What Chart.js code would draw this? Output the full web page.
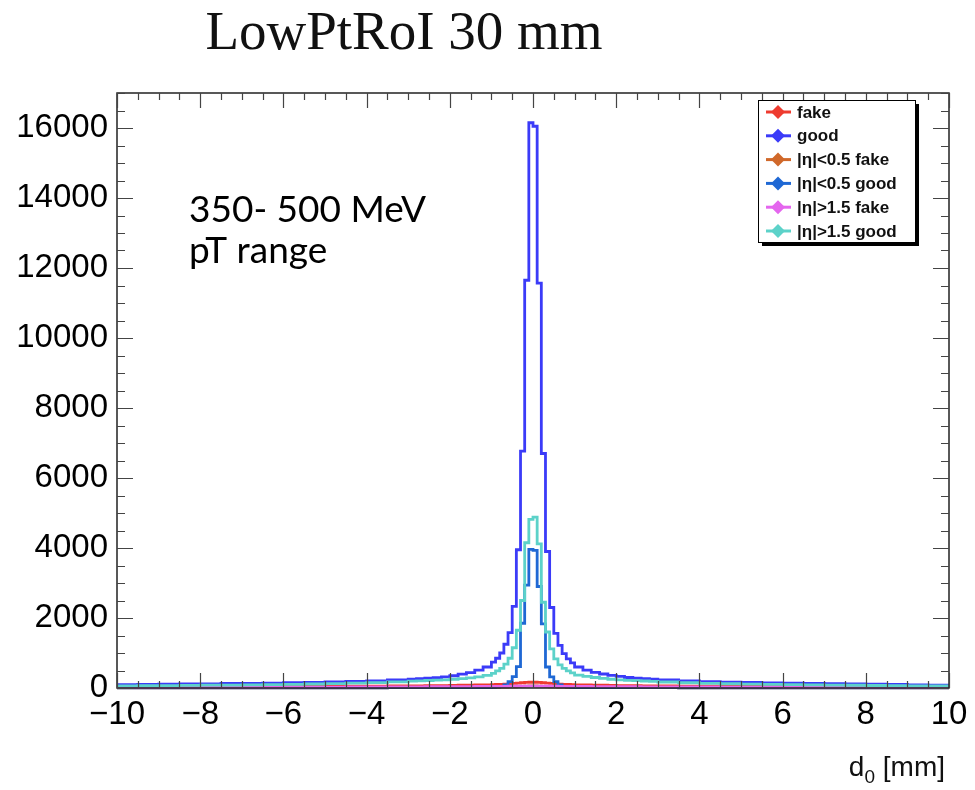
<!DOCTYPE html>
<html>
<head>
<meta charset="utf-8">
<script src="https://cdn.jsdelivr.net/npm/chart.js@4.4.0/dist/chart.umd.min.js"></script>
<style>
html, body { margin: 0; padding: 0; background: #fff; }
#wrap { width: 975px; height: 790px; position: relative; }
</style>
</head>
<body>
<div id="wrap"><canvas id="d0chart" width="975" height="790"></canvas></div>
<script>
// bin edges (d0 in mm): 0.5 mm in the tails, 0.2 mm and 0.1 mm near the core
var binEdges = [-10, -9.5, -9, -8.5, -8, -7.5, -7, -6.5, -6, -5.5, -5, -4.5, -4, -3.5, -3,
    -2.8, -2.6, -2.4, -2.2, -2, -1.8, -1.6, -1.4, -1.2, -1,
    -0.9, -0.8, -0.7, -0.6, -0.5, -0.4, -0.3, -0.2, -0.1, 0,
    0.1, 0.2, 0.3, 0.4, 0.5, 0.6, 0.7, 0.8, 0.9, 1,
    1.2, 1.4, 1.6, 1.8, 2, 2.2, 2.4, 2.6, 2.8, 3,
    3.5, 4, 4.5, 5, 5.5, 6, 6.5, 7, 7.5, 8, 8.5, 9, 9.5, 10];

// entries per bin
var fake = [24, 26, 28, 30, 32, 34, 37, 40, 42, 45, 48, 51, 54, 57,
    60, 62, 65, 68, 70, 75, 80, 83, 87, 90,
    95, 100, 105, 110, 120, 130, 140, 150, 160, 165,
    165, 160, 150, 140, 130, 120, 110, 105, 100, 95,
    90, 87, 83, 80, 75, 70, 68, 65, 62, 60,
    57, 54, 51, 48, 45, 42, 40, 37, 34, 32, 30, 28, 26, 24];
var good = [95, 100, 108, 115, 120, 128, 135, 142, 150, 160, 172, 188, 205, 232,
    255, 265, 280, 295, 320, 350, 395, 440, 510, 600,
    740, 850, 1000, 1250, 1580, 2330, 3950, 6770, 11650, 16150,
    16050, 11570, 6700, 3900, 2300, 1560, 1220, 980, 830, 720,
    600, 510, 445, 400, 360, 330, 300, 280, 265, 250,
    230, 205, 185, 170, 158, 148, 140, 132, 125, 118, 110, 100, 90, 80];
var centralFake = [3, 3, 3, 3, 4, 4, 4, 5, 5, 6, 6, 7, 7, 8,
    8, 8, 9, 9, 10, 11, 12, 13, 14, 16,
    18, 20, 23, 26, 30, 35, 40, 46, 52, 58,
    58, 52, 46, 40, 35, 30, 26, 23, 20, 18,
    16, 14, 13, 12, 11, 10, 9, 9, 8, 8,
    8, 7, 7, 6, 6, 5, 5, 4, 4, 4, 3, 3, 3, 3];
var centralGood = [3, 3, 4, 4, 4, 5, 5, 5, 6, 6, 6, 7, 7, 8,
    8, 8, 9, 9, 10, 10, 11, 12, 13, 15,
    20, 30, 45, 90, 180, 323, 610, 1850, 2940, 3960,
    3930, 2900, 1830, 600, 320, 180, 90, 45, 30, 20,
    15, 13, 12, 11, 10, 10, 9, 9, 8, 8,
    8, 7, 7, 6, 6, 6, 5, 5, 5, 4, 4, 4, 3, 3];
var forwardFake = [14, 15, 16, 17, 18, 19, 20, 22, 23, 25, 27, 28, 30, 32,
    34, 35, 36, 37, 38, 40, 41, 42, 44, 45,
    46, 47, 48, 49, 50, 51, 52, 53, 54, 55,
    55, 54, 53, 52, 51, 50, 49, 48, 47, 46,
    45, 44, 42, 41, 40, 38, 37, 36, 35, 34,
    32, 30, 28, 27, 25, 23, 22, 20, 19, 18, 17, 16, 15, 14];
var forwardGood = [60, 65, 70, 75, 80, 85, 92, 98, 105, 115, 125, 138, 152, 175,
    195, 205, 215, 225, 235, 250, 270, 290, 320, 360,
    420, 490, 560, 680, 850, 1150, 1650, 2500, 4150, 4820,
    4880, 4120, 2450, 1600, 1120, 830, 660, 560, 490, 430,
    370, 330, 300, 275, 250, 235, 220, 210, 200, 190,
    172, 150, 135, 122, 112, 104, 97, 90, 84, 78, 72, 67, 62, 58];

var seriesNames = ['fake', 'good', '|\u03b7|<0.5 fake', '|\u03b7|<0.5 good', '|\u03b7|>1.5 fake', '|\u03b7|>1.5 good'];
var seriesColors = ['#ee3b2f', '#3b3bf8', '#d0682a', '#1f68d4', '#e466ee', '#5cd2c9'];
var seriesValues = [fake, good, centralFake, centralGood, forwardFake, forwardGood];

var xTicks = [-10, -8, -6, -4, -2, 0, 2, 4, 6, 8, 10];
var yTicks = [0, 2000, 4000, 6000, 8000, 10000, 12000, 14000, 16000];

// histogram outline: one point per left edge, last value repeated at the right edge
function histPoints(values) {
    var pts = [];
    for (var i = 0; i < values.length; i++) {
        pts.push({ x: binEdges[i], y: values[i] });
    }
    pts.push({ x: binEdges[binEdges.length - 1], y: values[values.length - 1] });
    return pts;
}

var datasets = seriesValues.map(function (vals, i) {
    return {
        label: seriesNames[i],
        data: histPoints(vals),
        borderColor: seriesColors[i],
        backgroundColor: seriesColors[i],
        borderWidth: 2.8,
        pointRadius: 0,
        fill: false,
        stepped: true,
        clip: 3,
        order: seriesValues.length - i
    };
});

var rootStyle = {
    id: 'rootStyle',
    afterDraw: function (chart) {
        var ctx = chart.ctx;
        var area = chart.chartArea;
        var xs = chart.scales.x, ys = chart.scales.y;
        ctx.save();

        // frame
        ctx.strokeStyle = '#222';
        ctx.lineWidth = 1.5;
        ctx.strokeRect(area.left, area.top, area.right - area.left, area.bottom - area.top);

        // inward ticks on all four sides
        ctx.strokeStyle = '#444';
        ctx.lineWidth = 1.2;
        ctx.beginPath();
        var v, p, len;
        for (v = xs.min; v <= xs.max + 1e-9; v += 0.5) {
            p = Math.round(xs.getPixelForValue(v)) + 0.5;
            len = xTicks.indexOf(Math.round(v * 10) / 10) >= 0 ? 15 : 7;
            ctx.moveTo(p, area.bottom); ctx.lineTo(p, area.bottom - len);
            ctx.moveTo(p, area.top); ctx.lineTo(p, area.top + len);
        }
        for (v = ys.min; v <= ys.max + 1e-9; v += 500) {
            p = Math.round(ys.getPixelForValue(v)) + 0.5;
            len = yTicks.indexOf(v) >= 0 ? 16 : 8;
            ctx.moveTo(area.left, p); ctx.lineTo(area.left + len, p);
            ctx.moveTo(area.right, p); ctx.lineTo(area.right - len, p);
        }
        ctx.stroke();

        // legend box with shadow
        var lx = area.right - 191, ly = area.top + 7, lw = 157, lh = 142;
        ctx.fillStyle = '#000';
        ctx.fillRect(lx + 4, ly + 4, lw, lh);
        ctx.fillStyle = '#fff';
        ctx.fillRect(lx, ly, lw, lh);
        ctx.strokeStyle = '#000';
        ctx.lineWidth = 1;
        ctx.strokeRect(lx + 0.5, ly + 0.5, lw, lh);
        ctx.font = 'bold 17px "Liberation Sans", Arial, sans-serif';
        ctx.textBaseline = 'middle';
        ctx.textAlign = 'left';
        for (var i = 0; i < seriesNames.length; i++) {
            var cy = ly + 12 + i * 23.8;
            ctx.strokeStyle = seriesColors[i];
            ctx.lineWidth = 3;
            ctx.beginPath();
            ctx.moveTo(lx + 8, cy); ctx.lineTo(lx + 33, cy);
            ctx.stroke();
            ctx.fillStyle = seriesColors[i];
            ctx.beginPath();
            ctx.moveTo(lx + 20, cy - 7); ctx.lineTo(lx + 27, cy);
            ctx.lineTo(lx + 20, cy + 7); ctx.lineTo(lx + 13, cy);
            ctx.closePath();
            ctx.fill();
            ctx.fillStyle = '#111';
            ctx.fillText(seriesNames[i], lx + 39, cy + 1);
        }

        // title
        ctx.fillStyle = '#111';
        ctx.textBaseline = 'alphabetic';
        ctx.textAlign = 'center';
        ctx.font = '55px "Liberation Serif", "Times New Roman", serif';
        ctx.fillText('LowPtRoI 30 mm', 404, 49);

        // pT range note
        ctx.textAlign = 'left';
        ctx.fillStyle = '#000';
        ctx.font = '37px Lato, "Open Sans", sans-serif';
        ctx.fillText('350- 500 MeV', 189, 222);
        ctx.fillText('pT range', 189, 263);

        // x axis title with subscript
        ctx.fillStyle = '#111';
        ctx.font = '28px "Liberation Sans", Arial, sans-serif';
        var w1 = ctx.measureText('d').width;
        var w3 = ctx.measureText(' [mm]').width;
        ctx.font = '19px "Liberation Sans", Arial, sans-serif';
        var w2 = ctx.measureText('0').width;
        var x0 = 945 - (w1 + w2 + w3);
        ctx.font = '28px "Liberation Sans", Arial, sans-serif';
        ctx.fillText('d', x0, 776);
        ctx.fillText(' [mm]', x0 + w1 + w2, 776);
        ctx.font = '19px "Liberation Sans", Arial, sans-serif';
        ctx.fillText('0', x0 + w1, 783);

        ctx.restore();
    }
};

new Chart(document.getElementById('d0chart'), {
    type: 'line',
    data: { datasets: datasets },
    options: {
        responsive: false,
        animation: false,
        devicePixelRatio: 1,
        layout: { padding: { top: 93, right: 26, left: 0, bottom: 0 } },
        plugins: {
            legend: { display: false },
            tooltip: { enabled: false }
        },
        scales: {
            x: {
                type: 'linear',
                min: -10,
                max: 10,
                afterBuildTicks: function (axis) {
                    axis.ticks = xTicks.map(function (t) { return { value: t }; });
                },
                afterFit: function (axis) { axis.height = 102; },
                grid: { display: false, drawTicks: false },
                border: { display: false },
                ticks: {
                    autoSkip: false,
                    maxRotation: 0,
                    padding: 7,
                    color: '#000',
                    font: { family: '"Liberation Sans", Arial, sans-serif', size: 33 },
                    callback: function (v) { return v < 0 ? '\u2212' + Math.abs(v) : String(v); }
                }
            },
            y: {
                type: 'linear',
                min: 0,
                max: 17000,
                afterBuildTicks: function (axis) {
                    axis.ticks = yTicks.map(function (t) { return { value: t }; });
                },
                afterFit: function (axis) { axis.width = 117; },
                grid: { display: false, drawTicks: false },
                border: { display: false },
                ticks: {
                    padding: 9,
                    color: '#000',
                    font: { family: '"Liberation Sans", Arial, sans-serif', size: 33 },
                    callback: function (v) { return String(v); }
                }
            }
        }
    },
    plugins: [rootStyle]
});
</script>
</body>
</html>
